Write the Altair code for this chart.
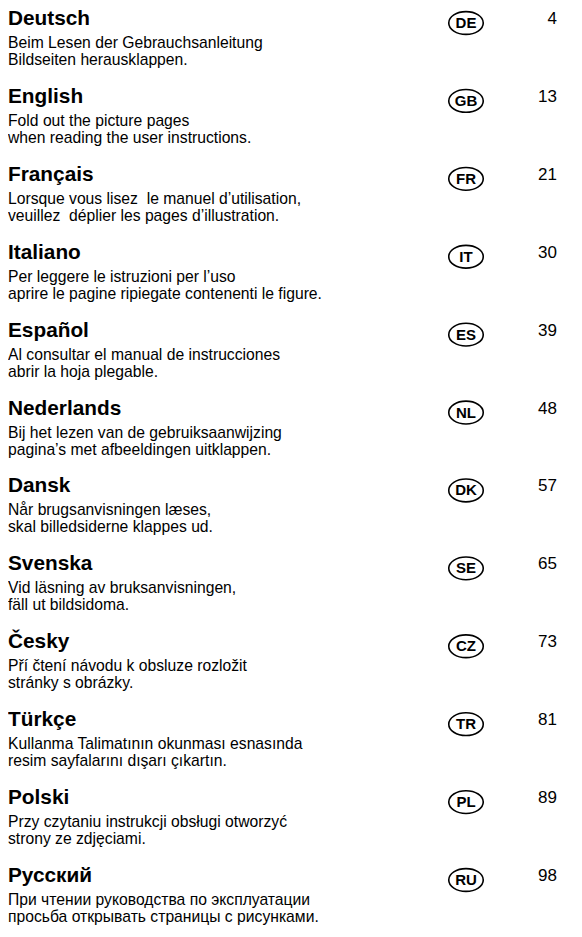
import altair as alt
import pandas as pd

langs = ["Deutsch", "English", "Français", "Italiano", "Español", "Nederlands",
         "Dansk", "Svenska", "Česky", "Türkçe", "Polski", "Русский"]
codes = ["DE", "GB", "FR", "IT", "ES", "NL", "DK", "SE", "CZ", "TR", "PL", "RU"]
pages = [4, 13, 21, 30, 39, 48, 57, 65, 73, 81, 89, 98]
line1 = [
    "Beim Lesen der Gebrauchsanleitung",
    "Fold out the picture pages",
    "Lorsque vous lisez\u00a0 le manuel d’utilisation,",
    "Per leggere le istruzioni per l’uso",
    "Al consultar el manual de instrucciones",
    "Bij het lezen van de gebruiksaanwijzing",
    "Når brugsanvisningen læses,",
    "Vid läsning av bruksanvisningen,",
    "Pří čtení návodu k obsluze rozložit",
    "Kullanma Talimatının okunması esnasında",
    "Przy czytaniu instrukcji obsługi otworzyć",
    "При чтении руководства по эксплуатации",
]
line2 = [
    "Bildseiten herausklappen.",
    "when reading the user instructions.",
    "veuillez\u00a0 déplier les pages d’illustration.",
    "aprire le pagine ripiegate contenenti le figure.",
    "abrir la hoja plegable.",
    "pagina’s met afbeeldingen uitklappen.",
    "skal billedsiderne klappes ud.",
    "fäll ut bildsidoma.",
    "stránky s obrázky.",
    "resim sayfalarını dışarı çıkartın.",
    "strony ze zdjęciami.",
    "просьба открывать страницы с рисунками.",
]

df = pd.DataFrame({
    "row": list(range(len(langs))),
    "lang": langs,
    "code": codes,
    "page": [str(p) for p in pages],
    "l1": line1,
    "l2": line2,
})

FONT = "Liberation Sans"
ELLIPSE = "M -1 0 A 1 0.66 0 1 0 1 0 A 1 0.66 0 1 0 -1 0 Z"

yenc = alt.Y("row:Q", scale=alt.Scale(domain=[0, 11], range=[11, 868]), axis=None)
base = alt.Chart(df).encode(y=yenc)

heading = base.mark_text(align="left", baseline="middle", font=FONT, fontSize=20.8,
                         fontWeight="bold", color="black").encode(x=alt.value(0), text="lang:N")
body1 = base.mark_text(align="left", baseline="middle", font=FONT, fontSize=15.7,
                       dy=24, color="black").encode(x=alt.value(0), text="l1:N")
body2 = base.mark_text(align="left", baseline="middle", font=FONT, fontSize=15.7,
                       dy=41, color="black").encode(x=alt.value(0), text="l2:N")
oval = base.mark_point(shape=ELLIPSE, size=1190, filled=False, stroke="black",
                       strokeWidth=1.6, opacity=1).encode(x=alt.value(458), yOffset=alt.value(4))
code_txt = base.mark_text(align="center", baseline="middle", font=FONT, fontSize=15,
                          fontWeight="bold", dy=4, color="black").encode(x=alt.value(458), text="code:N")
page_txt = base.mark_text(align="right", baseline="middle", font=FONT, fontSize=17,
                          color="black").encode(x=alt.value(549), text="page:N")

chart = alt.layer(heading, body1, body2, oval, code_txt, page_txt).properties(
    width=566, height=921, autosize=alt.AutoSizeParams(type="none"), padding=0
).configure_view(stroke=None)

chart.save("out.html", embed_options={"renderer": "svg", "actions": False})
